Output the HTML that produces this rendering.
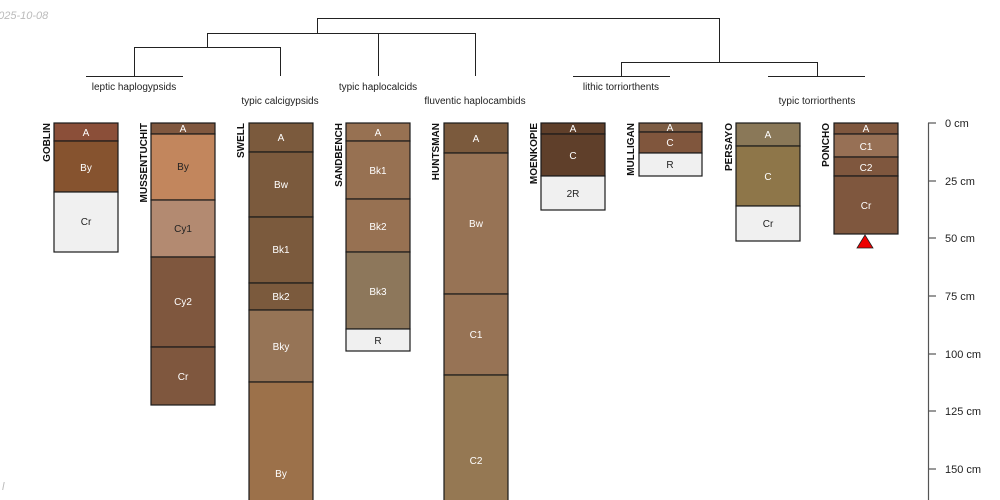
<!DOCTYPE html>
<html><head><meta charset="utf-8"><style>
html,body{margin:0;padding:0;background:#fff;width:1000px;height:500px;overflow:hidden}
svg{display:block;font-family:"Liberation Sans",sans-serif}
</style></head><body>
<svg width="1000" height="500" viewBox="0 0 1000 500" xmlns="http://www.w3.org/2000/svg">
<text x="-8" y="19" font-size="11" fill="#bbb" font-style="italic">2025-10-08</text>
<text x="2" y="490" font-size="11" fill="#bbb" font-style="italic">l</text>
<g stroke="#222" stroke-width="1" fill="none">
<path d="M317.5 33V18.5H719.5V62"/>
<path d="M207.5 47V33.5H475.5V76"/>
<path d="M378.5 33V76"/>
<path d="M134.5 76V47.5H280.5V76"/>
<path d="M86 76.5H183"/>
<path d="M621.5 76V62.5H817.5V76"/>
<path d="M573 76.5H670"/>
<path d="M768 76.5H865"/>
</g>
<g font-size="10" fill="#222" text-anchor="middle">
<text x="134" y="90">leptic haplogypsids</text>
<text x="280" y="104">typic calcigypsids</text>
<text x="378" y="90">typic haplocalcids</text>
<text x="475" y="104">fluventic haplocambids</text>
<text x="621" y="90">lithic torriorthents</text>
<text x="817" y="104">typic torriorthents</text>
</g>
<g font-size="10" font-weight="bold" fill="#111" text-anchor="end">
<text transform="translate(50,123) rotate(-90)">GOBLIN</text>
<text transform="translate(147,123) rotate(-90)">MUSSENTUCHIT</text>
<text transform="translate(244,123) rotate(-90)">SWELL</text>
<text transform="translate(342,123) rotate(-90)">SANDBENCH</text>
<text transform="translate(439,123) rotate(-90)">HUNTSMAN</text>
<text transform="translate(537,123) rotate(-90)">MOENKOPIE</text>
<text transform="translate(634,123) rotate(-90)">MULLIGAN</text>
<text transform="translate(732,123) rotate(-90)">PERSAYO</text>
<text transform="translate(829,123) rotate(-90)">PONCHO</text>
</g>
<g stroke="#1a1a1a" stroke-width="1.2" font-size="10" text-anchor="middle">
<!-- GOBLIN -->
<rect x="54" y="123" width="64" height="18" fill="#8b4f39"/><text x="86" y="136" fill="#fff" stroke="none">A</text>
<rect x="54" y="141" width="64" height="51" fill="#86532f"/><text x="86" y="171" fill="#fff" stroke="none">By</text>
<rect x="54" y="192" width="64" height="60" fill="#f0f0f0"/><text x="86" y="225" fill="#222" stroke="none">Cr</text>
<!-- MUSS -->
<rect x="151" y="123" width="64" height="11" fill="#80583f"/><text x="183" y="132" fill="#fff" stroke="none">A</text>
<rect x="151" y="134" width="64" height="66" fill="#c2865d"/><text x="183" y="170" fill="#222" stroke="none">By</text>
<rect x="151" y="200" width="64" height="57" fill="#b38a71"/><text x="183" y="232" fill="#222" stroke="none">Cy1</text>
<rect x="151" y="257" width="64" height="90" fill="#7f573e"/><text x="183" y="305" fill="#fff" stroke="none">Cy2</text>
<rect x="151" y="347" width="64" height="58" fill="#7f573e"/><text x="183" y="380" fill="#fff" stroke="none">Cr</text>
<!-- SWELL -->
<rect x="249" y="123" width="64" height="29" fill="#7b5a3d"/><text x="281" y="141" fill="#fff" stroke="none">A</text>
<rect x="249" y="152" width="64" height="65" fill="#7b5a3d"/><text x="281" y="188" fill="#fff" stroke="none">Bw</text>
<rect x="249" y="217" width="64" height="66" fill="#7b5a3d"/><text x="281" y="253" fill="#fff" stroke="none">Bk1</text>
<rect x="249" y="283" width="64" height="27" fill="#7b5a3d"/><text x="281" y="300" fill="#fff" stroke="none">Bk2</text>
<rect x="249" y="310" width="64" height="72" fill="#967456"/><text x="281" y="350" fill="#fff" stroke="none">Bky</text>
<rect x="249" y="382" width="64" height="130" fill="#9c714a"/><text x="281" y="477" fill="#fff" stroke="none">By</text>
<!-- SANDBENCH -->
<rect x="346" y="123" width="64" height="18" fill="#977152"/><text x="378" y="136" fill="#fff" stroke="none">A</text>
<rect x="346" y="141" width="64" height="58" fill="#977152"/><text x="378" y="174" fill="#fff" stroke="none">Bk1</text>
<rect x="346" y="199" width="64" height="53" fill="#977152"/><text x="378" y="230" fill="#fff" stroke="none">Bk2</text>
<rect x="346" y="252" width="64" height="77" fill="#8d775b"/><text x="378" y="295" fill="#fff" stroke="none">Bk3</text>
<rect x="346" y="329" width="64" height="22" fill="#f0f0f0"/><text x="378" y="344" fill="#222" stroke="none">R</text>
<!-- HUNTSMAN -->
<rect x="444" y="123" width="64" height="30" fill="#7b5a3d"/><text x="476" y="142" fill="#fff" stroke="none">A</text>
<rect x="444" y="153" width="64" height="141" fill="#977355"/><text x="476" y="227" fill="#fff" stroke="none">Bw</text>
<rect x="444" y="294" width="64" height="81" fill="#977355"/><text x="476" y="338" fill="#fff" stroke="none">C1</text>
<rect x="444" y="375" width="64" height="137" fill="#957853"/><text x="476" y="464" fill="#fff" stroke="none">C2</text>
<!-- MOENKOPIE -->
<rect x="541" y="123" width="64" height="11" fill="#5f3f2a"/><text x="573" y="132" fill="#fff" stroke="none">A</text>
<rect x="541" y="134" width="64" height="42" fill="#5f3f2a"/><text x="573" y="159" fill="#fff" stroke="none">C</text>
<rect x="541" y="176" width="64" height="34" fill="#f0f0f0"/><text x="573" y="197" fill="#222" stroke="none">2R</text>
<!-- MULLIGAN -->
<rect x="639" y="123" width="63" height="9" fill="#7d5d44"/><text x="670" y="131" fill="#fff" stroke="none">A</text>
<rect x="639" y="132" width="63" height="21" fill="#80563d"/><text x="670" y="146" fill="#fff" stroke="none">C</text>
<rect x="639" y="153" width="63" height="23" fill="#f0f0f0"/><text x="670" y="168" fill="#222" stroke="none">R</text>
<!-- PERSAYO -->
<rect x="736" y="123" width="64" height="23" fill="#8a7858"/><text x="768" y="138" fill="#fff" stroke="none">A</text>
<rect x="736" y="146" width="64" height="60" fill="#8e7649"/><text x="768" y="180" fill="#fff" stroke="none">C</text>
<rect x="736" y="206" width="64" height="35" fill="#f0f0f0"/><text x="768" y="227" fill="#222" stroke="none">Cr</text>
<!-- PONCHO -->
<rect x="834" y="123" width="64" height="11" fill="#7f573e"/><text x="866" y="132" fill="#fff" stroke="none">A</text>
<rect x="834" y="134" width="64" height="23" fill="#977055"/><text x="866" y="150" fill="#fff" stroke="none">C1</text>
<rect x="834" y="157" width="64" height="19" fill="#7f573e"/><text x="866" y="171" fill="#fff" stroke="none">C2</text>
<rect x="834" y="176" width="64" height="58" fill="#7f573e"/><text x="866" y="209" fill="#fff" stroke="none">Cr</text>
</g>
<polygon points="865,235 857,248 873,248" fill="#ee0000" stroke="#222" stroke-width="0.8"/>
<g stroke="#555" stroke-width="1.2">
<line x1="928.5" y1="123" x2="928.5" y2="500"/>
<line x1="928" y1="123" x2="936" y2="123"/>
<line x1="928" y1="181" x2="936" y2="181"/>
<line x1="928" y1="238" x2="936" y2="238"/>
<line x1="928" y1="296" x2="936" y2="296"/>
<line x1="928" y1="354" x2="936" y2="354"/>
<line x1="928" y1="411" x2="936" y2="411"/>
<line x1="928" y1="469" x2="936" y2="469"/>
</g>
<g font-size="11" fill="#222">
<text x="945" y="127">0 cm</text>
<text x="945" y="185">25 cm</text>
<text x="945" y="242">50 cm</text>
<text x="945" y="300">75 cm</text>
<text x="945" y="358">100 cm</text>
<text x="945" y="415">125 cm</text>
<text x="945" y="473">150 cm</text>
</g>
</svg>
</body></html>
